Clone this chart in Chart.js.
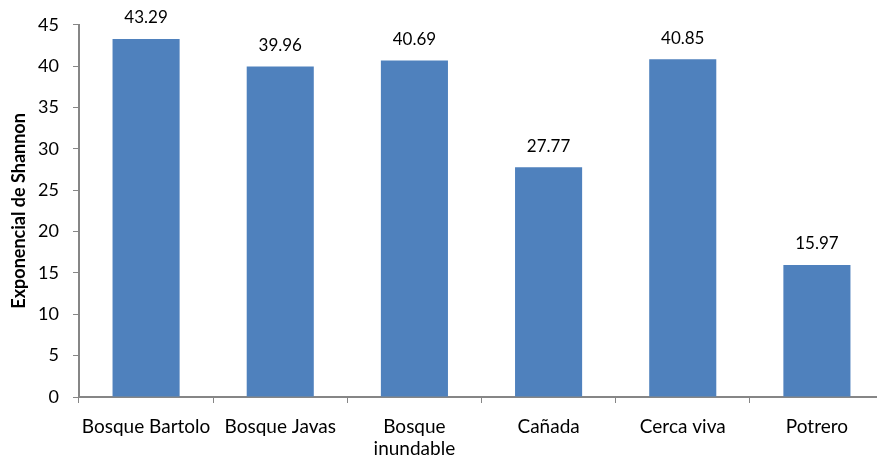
<!DOCTYPE html>
<html>
<head>
<meta charset="utf-8">
<script src="https://cdn.jsdelivr.net/npm/chart.js@4/dist/chart.umd.min.js"></script>
<style>
  html, body { margin: 0; padding: 0; background: #fff; overflow: hidden; }
  #wrap { width: 884px; height: 462px; }
</style>
</head>
<body>
<div id="wrap"><canvas id="c" width="884" height="462"></canvas></div>
<script>
const categories = ["Bosque Bartolo", "Bosque Javas", ["Bosque", "inundable"], "Cañada", "Cerca viva", "Potrero"];
const shannonExp = [43.29, 39.96, 40.69, 27.77, 40.85, 15.97];
const yTicks = [0, 5, 10, 15, 20, 25, 30, 35, 40, 45];

const fontFamily = "Lato, 'Open Sans', 'Liberation Sans', sans-serif";
const axisGray = "#868686";

// Writes each bar's value centred above it
const valueLabels = {
  id: "valueLabels",
  afterDatasetsDraw(chart) {
    const ctx = chart.ctx;
    const meta = chart.getDatasetMeta(0);
    ctx.save();
    ctx.font = "17px " + fontFamily;
    ctx.fillStyle = "#000";
    ctx.textAlign = "center";
    ctx.textBaseline = "middle";
    meta.data.forEach((bar, i) => {
      ctx.fillText(shannonExp[i].toFixed(2), bar.x, bar.y - 21);
    });
    ctx.restore();
  }
};

new Chart(document.getElementById("c"), {
  type: "bar",
  data: {
    labels: categories,
    datasets: [{
      data: shannonExp,
      backgroundColor: "#4F81BD",
      borderWidth: 0,
      barPercentage: 0.5,
      categoryPercentage: 1.0
    }]
  },
  options: {
    responsive: false,
    animation: false,
    devicePixelRatio: 1,
    layout: { padding: { top: 24, right: 0, bottom: 0, left: 0 } },
    plugins: { legend: { display: false }, tooltip: { enabled: false } },
    scales: {
      x: {
        grid: { display: true, drawOnChartArea: false, offset: true, tickLength: 6, color: axisGray, lineWidth: 1 },
        border: { display: true, color: axisGray, width: 2 },
        ticks: { color: "#000", font: { family: fontFamily, size: 19, lineHeight: 1.2 }, padding: 12, maxRotation: 0, autoSkip: false },
        afterFit(scale) { scale.height = 65; }
      },
      y: {
        min: 0,
        max: 45,
        afterBuildTicks(scale) { scale.ticks = yTicks.map(v => ({ value: v })); },
        grid: { display: true, drawOnChartArea: false, tickLength: 6, color: axisGray, lineWidth: 1 },
        border: { display: true, color: axisGray, width: 2 },
        ticks: { color: "#000", font: { family: fontFamily, size: 18 }, padding: 14 },
        title: { display: true, text: "Exponencial de Shannon", color: "#000", font: { family: fontFamily, size: 18, weight: "bold" }, padding: { top: 8, bottom: 4 } },
        afterFit(scale) { scale.width = 79; }
      }
    }
  },
  plugins: [valueLabels]
});
</script>
</body>
</html>
